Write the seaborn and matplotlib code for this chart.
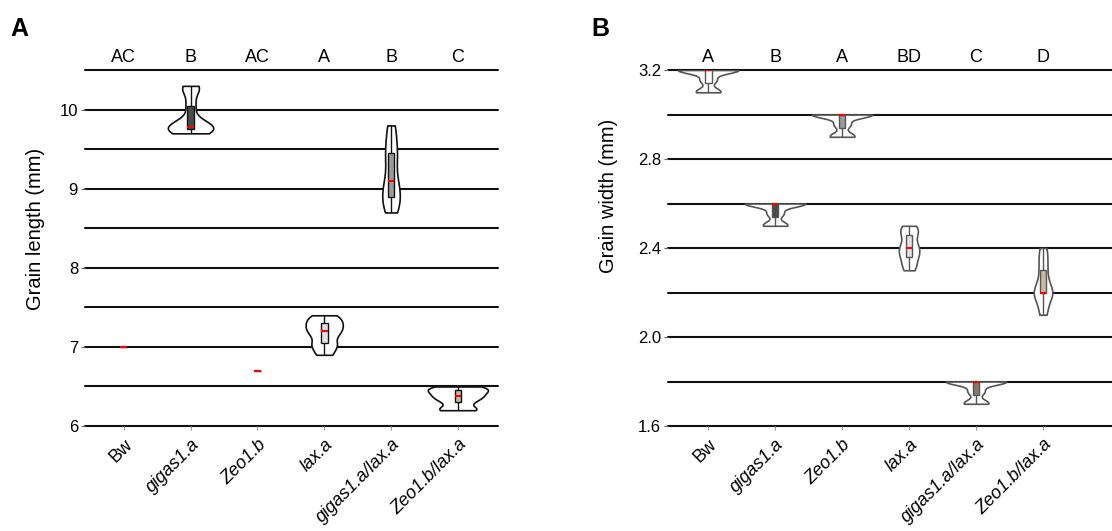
import numpy as np
import pandas as pd
import seaborn as sns
import matplotlib
matplotlib.use("Agg")
import matplotlib.pyplot as plt
from matplotlib.transforms import blended_transform_factory

# ---------------- data ----------------
genotypes = ["Bw", "gigas1.a", "Zeo1.b", "lax.a", "gigas1.a/lax.a", "Zeo1.b/lax.a"]
italic = [False, True, True, True, True, True]
length_letters = ["AC", "B", "AC", "A", "B", "C"]
width_letters = ["A", "B", "A", "BD", "C", "D"]

# grain length (mm)
len_Bw = [7.0]
len_gigas1a = [9.70, 9.74, 9.76, 9.78, 9.78, 9.85, 10.05, 10.25, 10.30]
len_Zeo1b = [6.70]
len_laxa = [6.90, 7.00, 7.05, 7.15, 7.20, 7.25, 7.30, 7.35, 7.40]
len_gigas1a_laxa = [8.70, 8.80, 8.90, 9.00, 9.10, 9.30, 9.45, 9.60, 9.80]
len_Zeo1b_laxa = [6.20, 6.22, 6.30, 6.35, 6.38, 6.42, 6.45, 6.48, 6.50]

# grain width (mm)
wid_Bw = [3.10, 3.10, 3.11, 3.15, 3.16, 3.20, 3.20, 3.20, 3.20, 3.20, 3.20, 3.20]
wid_gigas1a = [2.50, 2.50, 2.51, 2.55, 2.56, 2.60, 2.60, 2.60, 2.60, 2.60, 2.60, 2.60]
wid_Zeo1b = [2.90, 2.90, 2.91, 2.95, 2.96, 3.00, 3.00, 3.00, 3.00, 3.00, 3.00, 3.00]
wid_laxa = [2.30, 2.33, 2.36, 2.38, 2.40, 2.42, 2.46, 2.48, 2.50]
wid_gigas1a_laxa = [1.70, 1.70, 1.71, 1.75, 1.76, 1.80, 1.80, 1.80, 1.80, 1.80, 1.80, 1.80]
wid_Zeo1b_laxa = [2.10, 2.15, 2.20, 2.20, 2.20, 2.25, 2.30, 2.35, 2.40]

length_data = [len_Bw, len_gigas1a, len_Zeo1b, len_laxa, len_gigas1a_laxa, len_Zeo1b_laxa]
width_data = [wid_Bw, wid_gigas1a, wid_Zeo1b, wid_laxa, wid_gigas1a_laxa, wid_Zeo1b_laxa]

box_colors_A = ["#ffffff", "#4a4a4a", "#ffffff", "#e2e2e2", "#9a9a9a", "#c9b9a0"]
box_colors_B = ["#ffffff", "#4a4a4a", "#9a9a9a", "#e2e2e2", "#8c766a", "#c9b9a0"]


def long_df(values):
    rows = []
    for g, vals in zip(genotypes, values):
        for v in vals:
            rows.append((g, v))
    return pd.DataFrame(rows, columns=["genotype", "value"])


# ---------------- style ----------------
sns.set_theme(style="white")
plt.rcParams["font.family"] = ["Liberation Sans", "DejaVu Sans"]
plt.rcParams["text.color"] = "black"
plt.rcParams["axes.labelcolor"] = "black"
plt.rcParams["xtick.labelcolor"] = "black"
plt.rcParams["ytick.labelcolor"] = "black"

fig = plt.figure(figsize=(11.12, 5.31), dpi=100)
axA = fig.add_axes([0.0764, 0.1977, 0.3714, 0.6704])
axB = fig.add_axes([0.6007, 0.1977, 0.3993, 0.6704])


def draw_panel(ax, values, colors, edge, letters, ylim, grid_levels, major, fmt, ylabel,
               xlim, label_xy, width):
    df = long_df(values)
    counts = df.groupby("genotype")["value"].transform("count")
    dfv = df[counts > 1]
    for lvl in grid_levels:
        ax.axhline(lvl, color="#111111", lw=1.5, zorder=0.5, clip_on=False)
    sns.violinplot(data=dfv, x="genotype", y="value", order=genotypes,
                   cut=0, inner=None, color="white", saturation=1,
                   linecolor=edge, linewidth=1.2, density_norm="area",
                   width=width, bw_adjust=0.6, ax=ax)
    sns.boxplot(data=df, x="genotype", y="value", order=genotypes,
                hue="genotype", hue_order=genotypes,
                palette=dict(zip(genotypes, colors)), saturation=1,
                width=0.1, whis=(0, 100), showcaps=False, showfliers=False,
                linecolor=edge, linewidth=1.0,
                medianprops={"color": "red", "linewidth": 1.5},
                legend=False, ax=ax)
    ax.set_xlim(*xlim)
    ax.set_ylim(*ylim)
    ax.set_yticks(major)
    ax.set_yticklabels([fmt.format(m) for m in major], fontsize=12)
    for s in ax.spines.values():
        s.set_visible(False)
    ax.tick_params(axis="y", left=True, length=3, width=0.8, color="#666666", pad=2)
    ax.tick_params(axis="x", bottom=True, length=3, width=0.8, color="#999999", pad=4)
    ax.set_xticks(range(len(genotypes)))
    ax.set_xticklabels(genotypes, rotation=45, ha="right", rotation_mode="anchor",
                       fontsize=13)
    for t, it in zip(ax.get_xticklabels(), italic):
        if it:
            t.set_fontstyle("italic")
    ax.set_xlabel("")
    ax.set_ylabel(ylabel, fontsize=14.5)
    ax.yaxis.set_label_coords(*label_xy)
    tr = blended_transform_factory(ax.transData, ax.transAxes)
    for i, l in enumerate(letters):
        ax.text(i, 1.012, l, transform=tr, ha="center", va="bottom", fontsize=13)
    ax.grid(False)


draw_panel(axA, length_data, box_colors_A, "#111111", length_letters,
           (6.0, 10.5), np.arange(6.0, 10.51, 0.5), [6, 7, 8, 9, 10], "{:g}",
           "Grain length (mm)", (-0.58, 5.6), (-0.097, 0.553), 0.9)
draw_panel(axB, width_data, box_colors_B, "#555555", width_letters,
           (1.6, 3.2), np.arange(1.6, 3.21, 0.2), [1.6, 2.0, 2.4, 2.8, 3.2], "{:.1f}",
           "Grain width (mm)", (-0.6, 6.03), (-0.113, 0.646), 0.9)

fig.text(0.009, 0.945, "A", fontsize=18, fontweight="bold", va="center", ha="left")
fig.text(0.532, 0.945, "B", fontsize=18, fontweight="bold", va="center", ha="left")

fig.savefig("out.png", dpi=100)
